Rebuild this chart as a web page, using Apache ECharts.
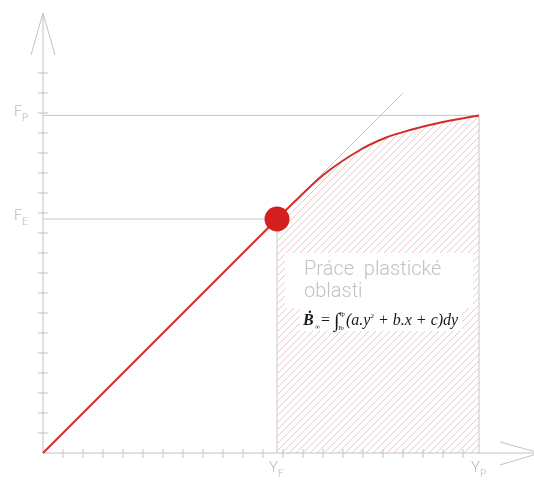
<!DOCTYPE html>
<html lang="cs">
<head>
<meta charset="UTF-8">
<title>Práce plastické oblasti</title>
<style>
    html, body { margin: 0; padding: 0; background: #fff; }
    #chart { width: 534px; height: 481px; }
</style>
</head>
<body>
<div id="chart"></div>
<script src="https://cdn.jsdelivr.net/npm/echarts@6/dist/echarts.min.js"></script>
<script>
    // jednotky: 1 dilek osy = 1
    var xTicks = [1, 2, 3, 4, 5, 6, 7, 8, 9, 10, 11, 12, 13, 14, 15, 16, 17, 18, 19, 20, 21];
    var yTicks = [1, 2, 3, 4, 5, 6, 7, 8, 9, 10, 11, 12, 13, 14, 15, 16, 17, 18, 19];
    var xArrowTip = 24.85;
    var yArrowTip = 22;

    var yF = 11.7, yP = 21.8;   // vodorovne hodnoty
    var fE = 11.7, fP = 16.88;  // svisle hodnoty

    var elasticLine = [[0, 0], [yF, fE]];
    var plasticCurve = [[yF, fE], [12.85, 12.83], [14.2, 14.05], [15.85, 15.15], [17.1, 15.75],
        [18.35, 16.15], [20.0, 16.55], [yP, fP]];
    var tangentLine = [[0, 0], [18, 18]];
    var limitPoint = [[yF, fE]];

    var guideLines = [
        [[0, fP], [yP, fP]],
        [[0, fE], [yF, fE]],
        [[yF, 0], [yF, fE]],
        [[yP, 0], [yP, fP]],
        tangentLine
    ];

    var vLabels = [['F', 'P', fP], ['F', 'E', fE]];
    var hLabels = [['Y', 'F', yF], ['Y', 'P', yP]];

    var axisColor = '#c2c2c2';
    var red = '#d42a2a';

    // srafovani
    function hatch() {
        var c = document.createElement('canvas');
        c.width = 7; c.height = 7;
        var ctx = c.getContext('2d');
        ctx.strokeStyle = '#e8c8c8';
        ctx.lineWidth = 1;
        ctx.beginPath();
        ctx.moveTo(-1, 8); ctx.lineTo(8, -1);
        ctx.moveTo(-1, 1); ctx.lineTo(1, -1);
        ctx.moveTo(6, 8); ctx.lineTo(8, 6);
        ctx.stroke();
        return c;
    }

    var myChart = echarts.init(document.getElementById('chart'));

    function seg(p1, p2, color) {
        return {
            type: 'line',
            shape: {x1: p1[0], y1: p1[1], x2: p2[0], y2: p2[1]},
            style: {stroke: color, lineWidth: 1}
        };
    }

    function txt(s, x, y, font, color) {
        return {type: 'text', style: {text: s, x: x, y: y, font: font, fill: color, verticalAlign: 'middle'}};
    }

    function renderAxes(params, api) {
        var o = api.coord([0, 0]);
        var xt = api.coord([xArrowTip, 0]);
        var yt = api.coord([0, yArrowTip]);
        var ch = [];
        ch.push(seg(o, xt, axisColor));
        ch.push(seg(o, yt, axisColor));
        // sipky
        ch.push(seg(xt, [xt[0] - 40, xt[1] - 11], axisColor));
        ch.push(seg(xt, [xt[0] - 40, xt[1] + 12], axisColor));
        ch.push(seg(yt, [yt[0] - 12, yt[1] + 42], axisColor));
        ch.push(seg(yt, [yt[0] + 12, yt[1] + 42], axisColor));
        xTicks.forEach(function (v) {
            var p = api.coord([v, 0]);
            ch.push(seg([p[0], p[1] - 4], [p[0], p[1] + 5], axisColor));
        });
        yTicks.forEach(function (v) {
            var p = api.coord([0, v]);
            ch.push(seg([p[0] - 5, p[1]], [p[0] + 5, p[1]], axisColor));
        });
        vLabels.forEach(function (l) {
            var p = api.coord([0, l[2]]);
            ch.push(txt(l[0], p[0] - 29, p[1] - 3, '300 15px Roboto', '#b8b8b8'));
            ch.push(txt(l[1], p[0] - 21, p[1] + 3, '300 10px Roboto', '#b8b8b8'));
        });
        hLabels.forEach(function (l) {
            var p = api.coord([l[2], 0]);
            ch.push(txt(l[0], p[0] - 8, p[1] + 15, '300 15px Roboto', '#b8b8b8'));
            ch.push(txt(l[1], p[0] + 1, p[1] + 21, '300 10px Roboto', '#b8b8b8'));
        });
        return {type: 'group', children: ch};
    }

    function renderNote(params, api) {
        var a = api.coord([yF, fE]);
        var x = a[0], y = a[1];
        var ink = '#1a1a1a';
        var c = y + 102;   // stred radku vzorce
        return {
            type: 'group',
            children: [
                {type: 'rect', shape: {x: x + 8, y: y + 34, width: 188, height: 55}, style: {fill: '#fff'}},
                {type: 'rect', shape: {x: x + 23, y: y + 88, width: 162, height: 24}, style: {fill: '#fff'}},
                txt('Práce  plastické', x + 27, y + 51, '300 20px Roboto', '#c2c2c2'),
                txt('oblasti', x + 27, y + 73, '300 20px Roboto', '#c2c2c2'),
                // vzorec
                txt('Ḃ', x + 26, c, 'italic bold 16px "Liberation Serif"', ink),
                txt('∞', x + 38, c + 6, '7px "Liberation Serif"', ink),
                txt('=', x + 44, c, '16px "Liberation Serif"', ink),
                txt('∫', x + 57, c + 1, '20px "Liberation Serif"', ink),
                txt('Yp', x + 62, c - 7, 'italic 6px "Liberation Serif"', ink),
                txt('Yo', x + 61, c + 7, 'italic 6px "Liberation Serif"', ink),
                {type: 'text', style: {
                        text: '{t|(a.y}{s|2}{t| + b.x + c)dy}',
                        x: x + 69, y: c, verticalAlign: 'middle', fill: ink,
                        rich: {
                            t: {font: 'italic 16px "Liberation Serif"', fill: ink},
                            s: {font: '7px "Liberation Serif"', verticalAlign: 'top', fill: ink}
                        }
                    }}
            ]
        };
    }

    var series = [];
    guideLines.forEach(function (g) {
        series.push({
            type: 'line', data: g, symbol: 'none', z: 3, silent: true,
            lineStyle: {color: '#c8c8c8', width: 1}
        });
    });
    series.push({
        type: 'line', data: plasticCurve, smooth: 0.4, symbol: 'none', z: 2,
        lineStyle: {width: 0},
        areaStyle: {color: {image: hatch(), repeat: 'repeat'}, opacity: 1}
    });
    series.push({type: 'custom', renderItem: renderAxes, data: [[0, 0]], clip: false, z: 4, silent: true});
    series.push({type: 'custom', renderItem: renderNote, data: [[0, 0]], z: 5, silent: true});
    series.push({
        type: 'line', data: plasticCurve, smooth: 0.4, symbol: 'none', z: 6,
        lineStyle: {color: red, width: 2}
    });
    series.push({
        type: 'line', data: elasticLine, symbol: 'none', z: 6,
        lineStyle: {color: red, width: 2}
    });
    series.push({
        type: 'scatter', data: limitPoint, symbolSize: 25, z: 7,
        itemStyle: {color: '#d41f1f', opacity: 1}
    });

    var option = {
        animation: false,
        grid: {left: 43, top: 73, width: 440, height: 380},
        xAxis: {type: 'value', min: 0, max: 22, show: false},
        yAxis: {type: 'value', min: 0, max: 19, show: false},
        series: series
    };
    myChart.setOption(option);
</script>
</body>
</html>
